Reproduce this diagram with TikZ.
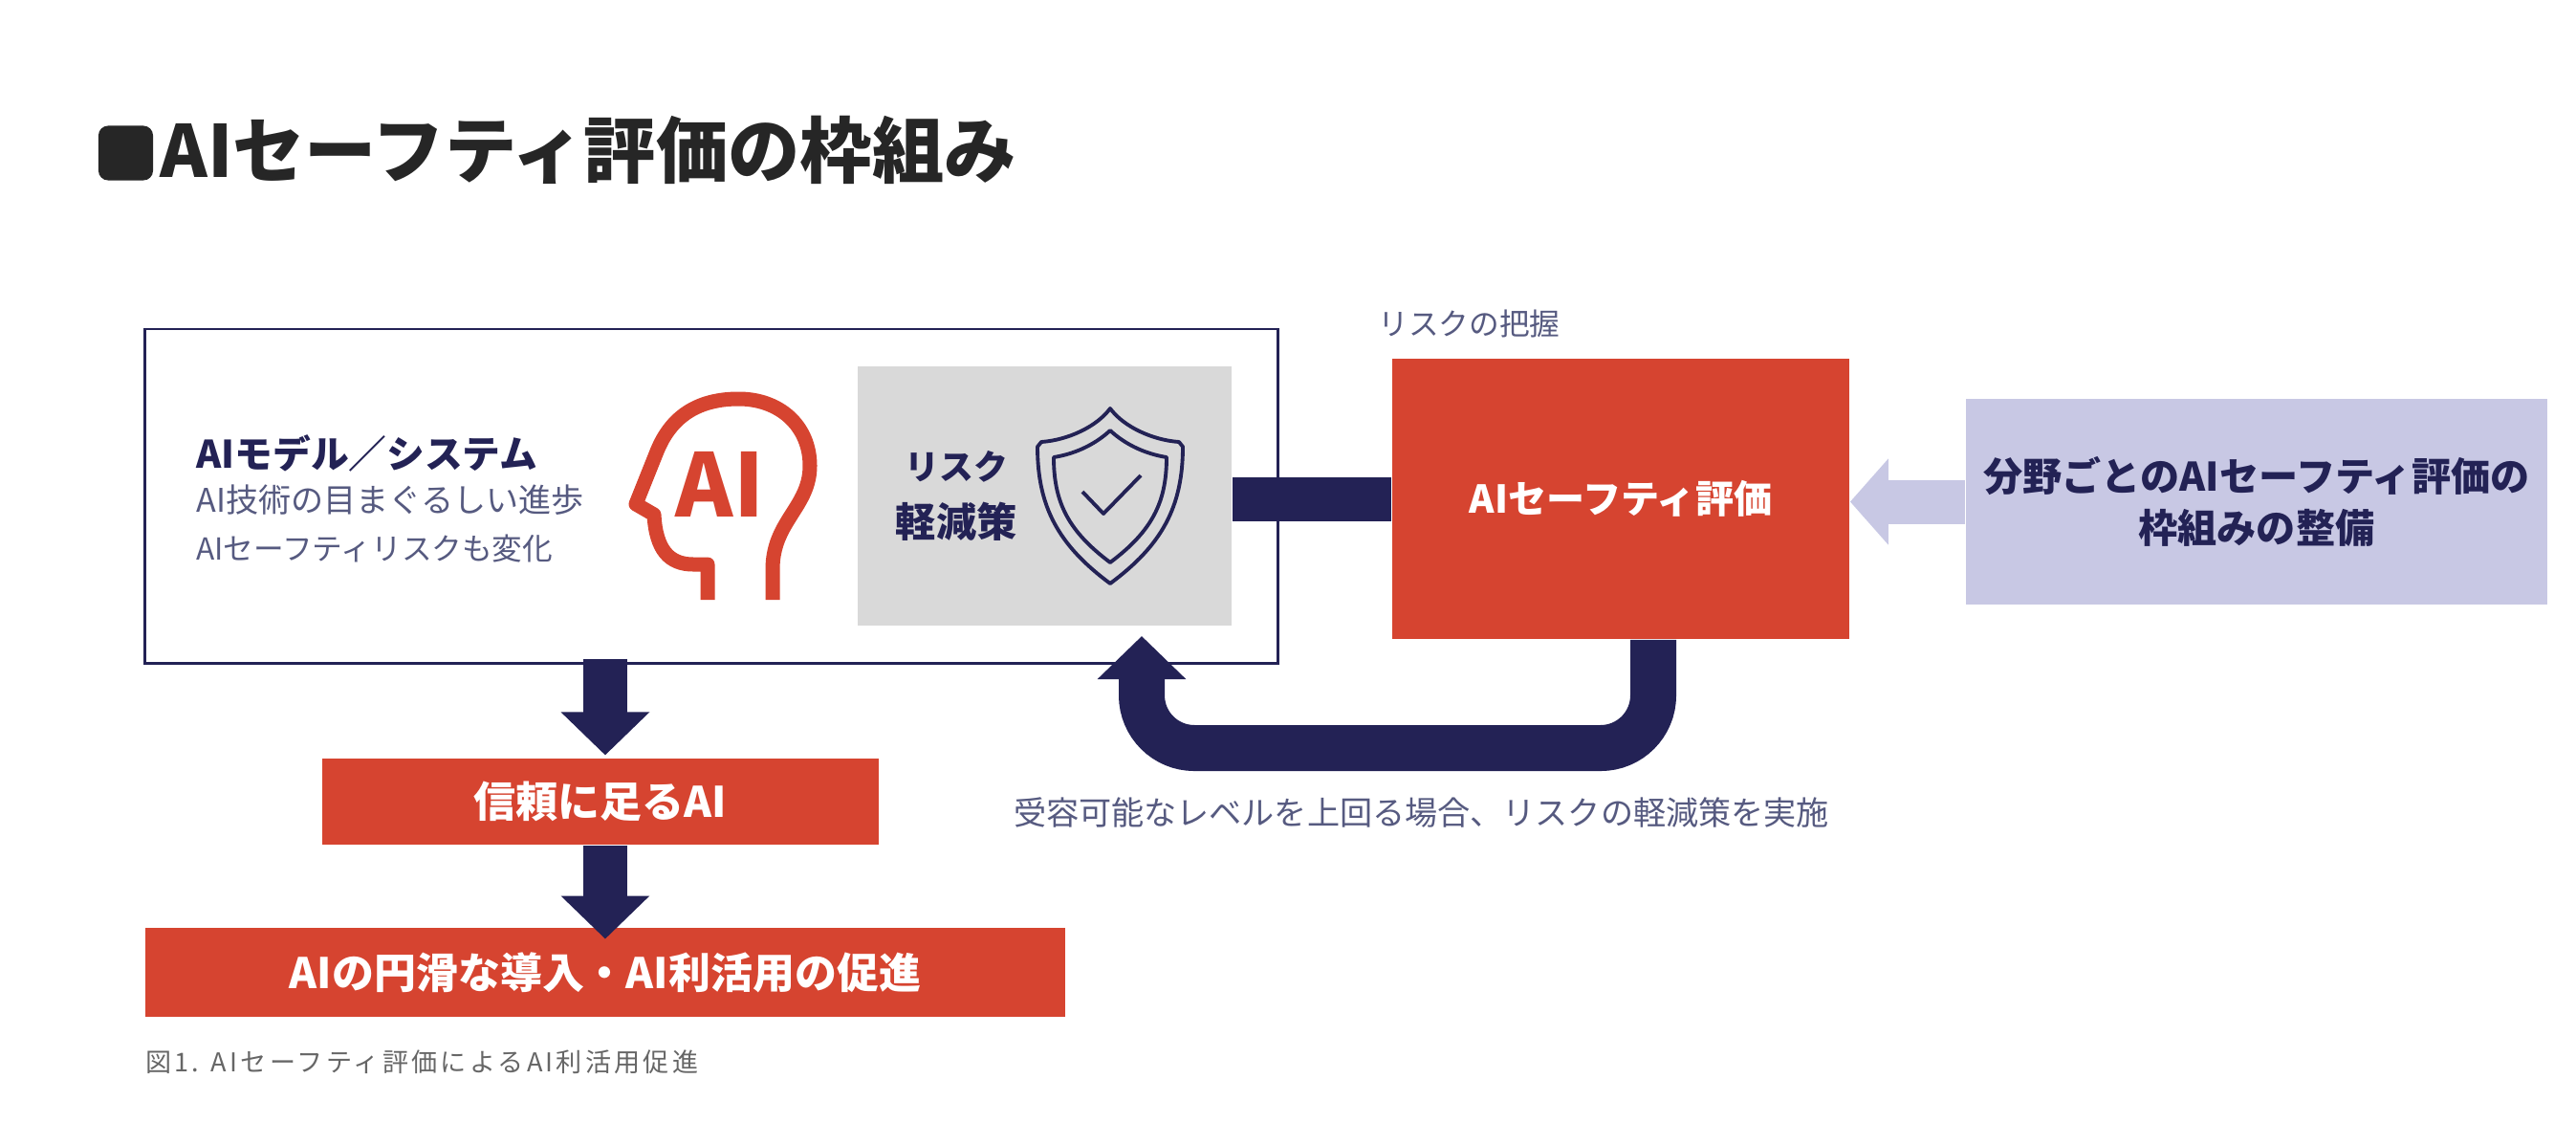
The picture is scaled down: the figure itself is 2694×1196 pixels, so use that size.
\documentclass[tikz,border=0pt]{standalone}
\usepackage{fontspec}
\setmainfont{Noto Sans CJK JP}
\usepackage{tikz}
\usetikzlibrary{positioning}
\usetikzlibrary{arrows.meta}
\definecolor{navy}{HTML}{232255}
\definecolor{redfill}{HTML}{D64430}
\definecolor{greyfill}{HTML}{D9D9D9}
\definecolor{lavfill}{HTML}{C8C8E4}
\definecolor{softtext}{HTML}{565A80}
\newcommand{\fsz}[2]{\fontsize{#1}{#2}\selectfont}
\tikzstyle{novertex} = [draw=none, fill=none, inner sep=0pt, text centered]
\tikzstyle{frame} = [rectangle, draw=navy, line width=0.8pt, fill=white, minimum width=11.84cm, minimum height=3.49cm]
\tikzstyle{greybox} = [rectangle, fill=greyfill, minimum width=3.91cm, minimum height=2.70cm]
\tikzstyle{redbox} = [rectangle, fill=redfill, text=white, font=\bfseries\fsz{12.5}{14}]
\tikzstyle{lavbox} = [rectangle, fill=lavfill, text=navy, align=center, font=\bfseries\fsz{11.7}{15.5}, minimum width=6.08cm, minimum height=2.15cm]
\tikzstyle{note} = [novertex, text=softtext, font=\fsz{9.7}{14.2}]
\tikzstyle{bar} = [draw=navy, line width=0.46cm]
\tikzstyle{flow} = [bar, -{Triangle[length=0.45cm,width=0.9cm]}]
\tikzstyle{input} = [draw=lavfill, line width=0.46cm, -{Triangle[length=0.40cm,width=0.88cm]}]
\tikzstyle{outline} = [draw=navy, line width=1.1pt, line join=round]

\begin{document}
\begin{tikzpicture}[x=0.01cm, y=-0.01cm]
	\useasboundingbox (0,0) rectangle (2694,1196);

	% title
	\node [rectangle, fill=black!85, rounded corners=0.1cm, minimum size=0.57cm, inner sep=0pt] (N0) at (131.5,160) {};
	\node [novertex, right of=N0, node distance=0.355cm, yshift=0.03cm, anchor=west, text=black!85, font=\bfseries\fsz{21.4}{24}] (T0) {AIセーフティ評価の枠組み};

	% place nodes
	\node [frame] (N1) at (744,518.5) {};
	\node [novertex, left of=N1, node distance=5.39cm, yshift=0.445cm, anchor=west, text=navy, font=\bfseries\fsz{11.3}{12}] (N2) {AIモデル／システム};
	\node [note, left of=N1, node distance=5.39cm, yshift=-0.285cm, anchor=west, align=left] (N3) {AI技術の目まぐるしい進歩\\{\fsz{9}{14.2}AIセーフティリスクも変化}};
	\node [greybox, right of=N1, node distance=3.485cm] (N4) {};
	\node [novertex, left of=N4, node distance=0.925cm, align=center, text=navy, font=\bfseries\fsz{12}{17}] (N4T) {{\fsz{10.2}{17}リスク}\\軽減策};

	\node [redbox, right of=N1, node distance=9.505cm, yshift=-0.03cm, minimum width=4.78cm, minimum height=2.93cm, font=\bfseries\fsz{11.4}{14}] (N5) {AIセーフティ評価};
	\node [lavbox, right of=N5, node distance=6.645cm, yshift=-0.03cm] (N6) {分野ごとのAIセーフティ評価の\\枠組みの整備};

	\node [redbox, below of=N1, node distance=3.195cm, xshift=-1.16cm, minimum width=5.82cm, minimum height=0.90cm] (N7) {信頼に足るAI};
	\node [redbox, below of=N7, node distance=1.785cm, xshift=0.05cm, minimum width=9.62cm, minimum height=0.93cm] (N8) {AIの円滑な導入・AI利活用の促進};

	\node [note, above of=N5, node distance=1.83cm, xshift=-1.585cm, font=\fsz{9}{11}] (N9) {リスクの把握};
	\node [note, below of=N5, node distance=3.275cm, xshift=-2.085cm] (N10) {受容可能なレベルを上回る場合、リスクの軽減策を実施};
	\node [novertex, below of=N8, node distance=0.935cm, xshift=-4.81cm, anchor=west, text=black!60, font=\fsz{7.7}{9}\addfontfeature{LetterSpace=12}] (N11) {図1. AIセーフティ評価によるAI利活用促進};

	% head
	\draw [draw=redfill, line width=0.15cm, line join=round]
		(740,627) -- (740,590) -- (725,590)
		.. controls (700,590) and (686,575) .. (684,538)
		-- (665,527) -- (685,477)
		.. controls (695,450) and (715,418) .. (770,417)
		.. controls (815,416) and (847,445) .. (847,487)
		.. controls (847,530) and (808,545) .. (808,595)
		-- (808,627);
	\node [novertex, text=redfill, font=\fsz{26}{28}\bfseries] (N12) at (753,506) {AI};

	% shield
	\draw [outline] (1161,427) .. controls (1175,446) and (1205,460) .. (1233,462)
		-- (1237,467) .. controls (1237,530) and (1215,570) .. (1161,610)
		.. controls (1107,570) and (1085,530) .. (1085,467)
		-- (1089,462) .. controls (1117,460) and (1147,446) .. (1161,427) -- cycle;
	\draw [outline] (1161,450) .. controls (1175,463) and (1195,474) .. (1220,478)
		.. controls (1220,525) and (1205,555) .. (1161,588)
		.. controls (1117,555) and (1102,525) .. (1102,478)
		.. controls (1127,474) and (1147,463) .. (1161,450) -- cycle;
	\draw [outline] (1132,514) -- (1154,537) -- (1193,497);

	% draw edges
	\coordinate (U1) at (1729,782);
	\coordinate (U2) at (1194,782);
	\coordinate (U3) at (1194,665);
	\path [bar] (N4.east |- N5.west) -- (N5.west);
	\path [input] (N6.west) -- (N5.east |- N6.west);
	\path [flow, line width=0.48cm, rounded corners=0.55cm] (U1 |- N5.south) -- (U1) -- (U2) -- (U3);
	\path [flow, shorten >=0.03cm] ([yshift=0.06cm]N8.north |- N1.south) -- (N8.north |- N7.north);
	\path [flow, shorten >=-0.12cm] (N8.north |- N7.south) -- (N8.north);
\end{tikzpicture}
\end{document}
